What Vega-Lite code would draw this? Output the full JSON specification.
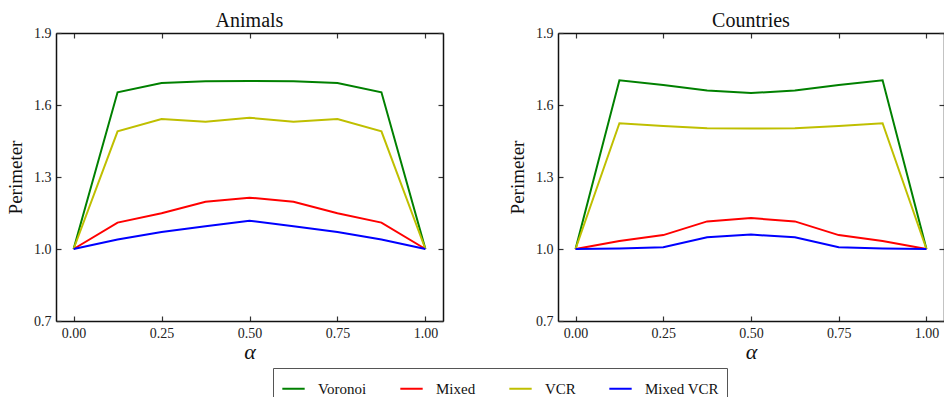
{
  "$schema": "https://vega.github.io/schema/vega-lite/v6.json",
  "padding": {"left": 6, "top": 11, "right": 0, "bottom": 0},
  "background": "white",
  "datasets": {
    "perim": [
      {"d": "Animals", "m": "Voronoi", "a": 0, "p": 1.0},
      {"d": "Animals", "m": "Voronoi", "a": 0.125, "p": 1.653},
      {"d": "Animals", "m": "Voronoi", "a": 0.25, "p": 1.692},
      {"d": "Animals", "m": "Voronoi", "a": 0.375, "p": 1.699},
      {"d": "Animals", "m": "Voronoi", "a": 0.5, "p": 1.7},
      {"d": "Animals", "m": "Voronoi", "a": 0.625, "p": 1.699},
      {"d": "Animals", "m": "Voronoi", "a": 0.75, "p": 1.692},
      {"d": "Animals", "m": "Voronoi", "a": 0.875, "p": 1.653},
      {"d": "Animals", "m": "Voronoi", "a": 1, "p": 1.0},
      {"d": "Animals", "m": "Mixed", "a": 0, "p": 1.0},
      {"d": "Animals", "m": "Mixed", "a": 0.125, "p": 1.11},
      {"d": "Animals", "m": "Mixed", "a": 0.25, "p": 1.149},
      {"d": "Animals", "m": "Mixed", "a": 0.375, "p": 1.197},
      {"d": "Animals", "m": "Mixed", "a": 0.5, "p": 1.214},
      {"d": "Animals", "m": "Mixed", "a": 0.625, "p": 1.197},
      {"d": "Animals", "m": "Mixed", "a": 0.75, "p": 1.149},
      {"d": "Animals", "m": "Mixed", "a": 0.875, "p": 1.11},
      {"d": "Animals", "m": "Mixed", "a": 1, "p": 1.0},
      {"d": "Animals", "m": "VCR", "a": 0, "p": 1.0},
      {"d": "Animals", "m": "VCR", "a": 0.125, "p": 1.49},
      {"d": "Animals", "m": "VCR", "a": 0.25, "p": 1.542},
      {"d": "Animals", "m": "VCR", "a": 0.375, "p": 1.53},
      {"d": "Animals", "m": "VCR", "a": 0.5, "p": 1.547},
      {"d": "Animals", "m": "VCR", "a": 0.625, "p": 1.53},
      {"d": "Animals", "m": "VCR", "a": 0.75, "p": 1.542},
      {"d": "Animals", "m": "VCR", "a": 0.875, "p": 1.49},
      {"d": "Animals", "m": "VCR", "a": 1, "p": 1.0},
      {"d": "Animals", "m": "Mixed VCR", "a": 0, "p": 1.0},
      {"d": "Animals", "m": "Mixed VCR", "a": 0.125, "p": 1.04},
      {"d": "Animals", "m": "Mixed VCR", "a": 0.25, "p": 1.071},
      {"d": "Animals", "m": "Mixed VCR", "a": 0.375, "p": 1.095},
      {"d": "Animals", "m": "Mixed VCR", "a": 0.5, "p": 1.118},
      {"d": "Animals", "m": "Mixed VCR", "a": 0.625, "p": 1.095},
      {"d": "Animals", "m": "Mixed VCR", "a": 0.75, "p": 1.071},
      {"d": "Animals", "m": "Mixed VCR", "a": 0.875, "p": 1.04},
      {"d": "Animals", "m": "Mixed VCR", "a": 1, "p": 1.0},
      {"d": "Countries", "m": "Voronoi", "a": 0, "p": 1.0},
      {"d": "Countries", "m": "Voronoi", "a": 0.125, "p": 1.703},
      {"d": "Countries", "m": "Voronoi", "a": 0.25, "p": 1.683},
      {"d": "Countries", "m": "Voronoi", "a": 0.375, "p": 1.66},
      {"d": "Countries", "m": "Voronoi", "a": 0.5, "p": 1.65},
      {"d": "Countries", "m": "Voronoi", "a": 0.625, "p": 1.66},
      {"d": "Countries", "m": "Voronoi", "a": 0.75, "p": 1.683},
      {"d": "Countries", "m": "Voronoi", "a": 0.875, "p": 1.703},
      {"d": "Countries", "m": "Voronoi", "a": 1, "p": 1.0},
      {"d": "Countries", "m": "Mixed", "a": 0, "p": 1.0},
      {"d": "Countries", "m": "Mixed", "a": 0.125, "p": 1.033},
      {"d": "Countries", "m": "Mixed", "a": 0.25, "p": 1.058},
      {"d": "Countries", "m": "Mixed", "a": 0.375, "p": 1.115},
      {"d": "Countries", "m": "Mixed", "a": 0.5, "p": 1.129},
      {"d": "Countries", "m": "Mixed", "a": 0.625, "p": 1.115},
      {"d": "Countries", "m": "Mixed", "a": 0.75, "p": 1.058},
      {"d": "Countries", "m": "Mixed", "a": 0.875, "p": 1.033},
      {"d": "Countries", "m": "Mixed", "a": 1, "p": 1.0},
      {"d": "Countries", "m": "VCR", "a": 0, "p": 1.0},
      {"d": "Countries", "m": "VCR", "a": 0.125, "p": 1.524},
      {"d": "Countries", "m": "VCR", "a": 0.25, "p": 1.512},
      {"d": "Countries", "m": "VCR", "a": 0.375, "p": 1.503},
      {"d": "Countries", "m": "VCR", "a": 0.5, "p": 1.502},
      {"d": "Countries", "m": "VCR", "a": 0.625, "p": 1.503},
      {"d": "Countries", "m": "VCR", "a": 0.75, "p": 1.512},
      {"d": "Countries", "m": "VCR", "a": 0.875, "p": 1.524},
      {"d": "Countries", "m": "VCR", "a": 1, "p": 1.0},
      {"d": "Countries", "m": "Mixed VCR", "a": 0, "p": 1.0},
      {"d": "Countries", "m": "Mixed VCR", "a": 0.125, "p": 1.002},
      {"d": "Countries", "m": "Mixed VCR", "a": 0.25, "p": 1.007},
      {"d": "Countries", "m": "Mixed VCR", "a": 0.375, "p": 1.049},
      {"d": "Countries", "m": "Mixed VCR", "a": 0.5, "p": 1.06},
      {"d": "Countries", "m": "Mixed VCR", "a": 0.625, "p": 1.049},
      {"d": "Countries", "m": "Mixed VCR", "a": 0.75, "p": 1.007},
      {"d": "Countries", "m": "Mixed VCR", "a": 0.875, "p": 1.002},
      {"d": "Countries", "m": "Mixed VCR", "a": 1, "p": 1.0}
    ]
  },
  "data": {"name": "perim"},
  "spacing": 64,
  "resolve": {"scale": {"color": "shared"}, "legend": {"color": "shared"}},
  "hconcat": [
    {
      "title": {"text": "Animals"},
      "width": 387,
      "height": 288,
      "transform": [{"filter": "datum.d === 'Animals'"}],
      "layer": [
        {
          "mark": {"type": "line", "strokeWidth": 2, "clip": true},
          "encoding": {
            "x": {"field": "a", "type": "quantitative", "scale": {"domain": [-0.05, 1.05], "nice": false, "zero": false},
                  "axis": {"orient": "bottom", "values": [0, 0.25, 0.5, 0.75, 1], "format": ".2f", "title": "α", "titleFontStyle": "italic", "titleFontSize": 22, "titlePadding": 1}},
            "y": {"field": "p", "type": "quantitative", "scale": {"domain": [0.7, 1.9], "nice": false, "zero": false},
                  "axis": {"orient": "left", "values": [0.7, 1.0, 1.3, 1.6, 1.9], "format": ".1f", "title": "Perimeter", "titleFontSize": 19, "titlePadding": 8}},
            "color": {"field": "m", "type": "nominal",
                      "scale": {"domain": ["Voronoi", "Mixed", "VCR", "Mixed VCR"], "range": ["#008000", "#ff0000", "#bfbf00", "#0000ff"]},
                      "legend": {"orient": "none", "legendX": 217, "legendY": 335, "direction": "horizontal", "columns": 4, "title": null,
                                 "symbolType": "stroke", "symbolSize": 500, "symbolStrokeWidth": 2, "labelFontSize": 15, "labelFont": "Liberation Serif", "labelOffset": 12,
                                 "columnPadding": 29, "padding": 8, "strokeColor": "#555", "fillColor": "white", "labelColor": "#111"}},
            "order": {"field": "a", "type": "quantitative"}
          }
        },
        {
          "mark": {"type": "line", "strokeOpacity": 0},
          "encoding": {
            "x": {"field": "a", "type": "quantitative", "axis": {"orient": "top", "values": [0, 0.25, 0.5, 0.75, 1], "labels": false, "title": null, "minExtent": 0, "maxExtent": 0}},
            "y": {"field": "p", "type": "quantitative", "axis": {"orient": "right", "values": [0.7, 1.0, 1.3, 1.6, 1.9], "labels": false, "title": null, "minExtent": 0, "maxExtent": 0}},
            "detail": {"field": "m"}
          }
        }
      ]
    },
    {
      "title": {"text": "Countries"},
      "width": 386,
      "height": 288,
      "transform": [{"filter": "datum.d === 'Countries'"}],
      "layer": [
        {
          "mark": {"type": "line", "strokeWidth": 2, "clip": true},
          "encoding": {
            "x": {"field": "a", "type": "quantitative", "scale": {"domain": [-0.05, 1.05], "nice": false, "zero": false},
                  "axis": {"orient": "bottom", "values": [0, 0.25, 0.5, 0.75, 1], "format": ".2f", "title": "α", "titleFontStyle": "italic", "titleFontSize": 22, "titlePadding": 1}},
            "y": {"field": "p", "type": "quantitative", "scale": {"domain": [0.7, 1.9], "nice": false, "zero": false},
                  "axis": {"orient": "left", "values": [0.7, 1.0, 1.3, 1.6, 1.9], "format": ".1f", "title": "Perimeter", "titleFontSize": 19, "titlePadding": 8}},
            "color": {"field": "m", "type": "nominal",
                      "scale": {"domain": ["Voronoi", "Mixed", "VCR", "Mixed VCR"], "range": ["#008000", "#ff0000", "#bfbf00", "#0000ff"]}},
            "order": {"field": "a", "type": "quantitative"}
          }
        },
        {
          "mark": {"type": "line", "strokeOpacity": 0},
          "encoding": {
            "x": {"field": "a", "type": "quantitative", "axis": {"orient": "top", "values": [0, 0.25, 0.5, 0.75, 1], "labels": false, "title": null, "minExtent": 0, "maxExtent": 0}},
            "y": {"field": "p", "type": "quantitative", "axis": {"orient": "right", "values": [0.7, 1.0, 1.3, 1.6, 1.9], "labels": false, "title": null, "minExtent": 0, "maxExtent": 0}},
            "detail": {"field": "m"}
          }
        }
      ]
    }
  ],
  "config": {
    "font": "Liberation Serif",
    "view": {"stroke": null},
    "title": {"fontSize": 20, "fontWeight": "normal", "font": "Liberation Serif", "color": "#111", "offset": -5},
    "axis": {
      "grid": false,
      "domainColor": "#111",
      "domainWidth": 1.5,
      "tickColor": "#333",
      "tickWidth": 1.2,
      "tickSize": -5,
      "labelFontSize": 14,
      "labelColor": "#222",
      "labelFont": "Liberation Serif",
      "labelPadding": 10,
      "titleFont": "Liberation Serif",
      "titleFontWeight": "normal",
      "titleColor": "#111"
    },
    "legend": {"labelFont": "Liberation Serif"}
  }
}
